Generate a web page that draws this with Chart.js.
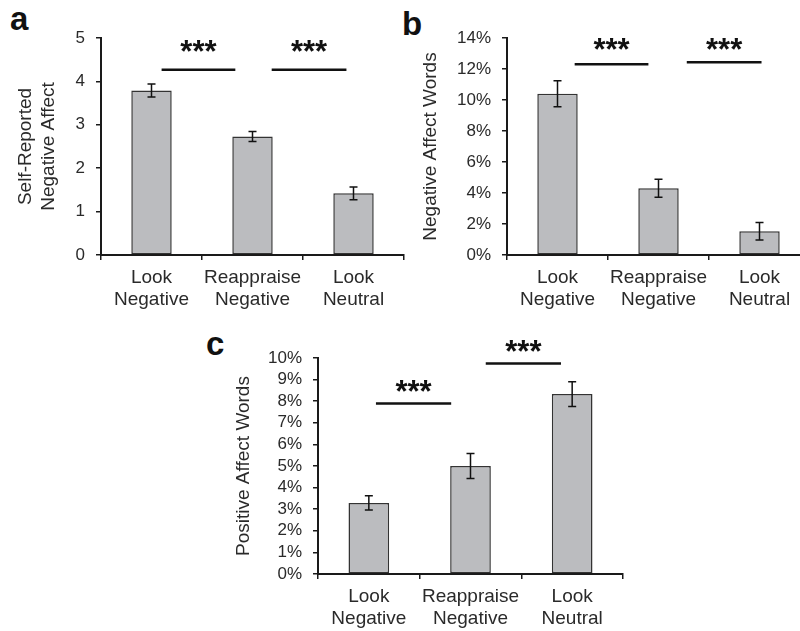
<!DOCTYPE html>
<html>
<head>
<meta charset="utf-8">
<script src="https://cdn.jsdelivr.net/npm/chart.js@4.4.1/dist/chart.umd.min.js"></script>
<style>
    html, body { margin: 0; padding: 0; background: #fff; }
    body { width: 800px; height: 631px; position: relative; overflow: hidden; }
    canvas { position: absolute; }
    .panel-letter { position: absolute; font: bold 33px "Liberation Sans", Arial, sans-serif; line-height: 33px; color: #111; }
</style>
</head>
<body>
<div class="panel-letter" style="left:10px; top:2px;">a</div>
<div class="panel-letter" style="left:402px; top:7px;">b</div>
<div class="panel-letter" style="left:206px; top:327px;">c</div>
<canvas id="chartA" width="420" height="320" style="left:0; top:0;"></canvas>
<canvas id="chartB" width="420" height="320" style="left:400px; top:0;"></canvas>
<canvas id="chartC" width="440" height="311" style="left:200px; top:320px;"></canvas>
<script>
// categories shared by all three panels
const categories = [['Look', 'Negative'], ['Reappraise', 'Negative'], ['Look', 'Neutral']];

// panel a: self-reported negative affect (scale 0-5)
const negAffect = [3.79, 2.73, 1.42];
const negAffectErr = [0.15, 0.115, 0.145];

// panel b: negative affect words (%)
const negWords = [10.4, 4.3, 1.53];
const negWordsErr = [0.84, 0.58, 0.57];

// panel c: positive affect words (%)
const posWords = [3.29, 5.0, 8.33];
const posWordsErr = [0.33, 0.58, 0.57];

// significance bars, in category-index / value units
const sigA = [{ from: 0.1, to: 0.83, y: 4.27, starY: 4.81 }, { from: 1.19, to: 1.93, y: 4.27, starY: 4.81 }];
const sigB = [{ from: 0.17, to: 0.9, y: 12.3, starY: 13.6 }, { from: 1.28, to: 2.02, y: 12.43, starY: 13.6 }];
const sigC = [{ from: 0.07, to: 0.81, y: 7.89, starY: 8.69 }, { from: 1.15, to: 1.89, y: 9.74, starY: 10.57 }];

const FONT = '"Liberation Sans", Arial, sans-serif';
const TEXT = '#2a2a2a';
const AXIS = '#1a1a1a';
const BAR_FILL = '#bbbcbf';

const markPlugin = {
    id: 'marks',
    afterDatasetsDraw(chart) {
        const opts = chart.options.plugins.marks;
        const ctx = chart.ctx;
        const xs = chart.scales.x;
        const ys = chart.scales.y;
        const vals = chart.data.datasets[0].data;

        ctx.save();
        // error bars
        ctx.strokeStyle = '#111';
        ctx.lineWidth = 1.5;
        opts.errors.forEach((e, i) => {
            const x = xs.getPixelForValue(i);
            const top = ys.getPixelForValue(vals[i] + e);
            const bot = ys.getPixelForValue(vals[i] - e);
            ctx.beginPath();
            ctx.moveTo(x, top); ctx.lineTo(x, bot);
            ctx.moveTo(x - 4, top); ctx.lineTo(x + 4, top);
            ctx.moveTo(x - 4, bot); ctx.lineTo(x + 4, bot);
            ctx.stroke();
        });

        // significance lines with stars
        const step = xs.getPixelForValue(1) - xs.getPixelForValue(0);
        const x0 = xs.getPixelForValue(0);
        ctx.lineWidth = 2.5;
        ctx.font = 'bold 31px ' + FONT;
        ctx.fillStyle = '#111';
        ctx.textAlign = 'center';
        ctx.textBaseline = 'alphabetic';
        const m = ctx.measureText('***');
        const half = (m.actualBoundingBoxAscent - m.actualBoundingBoxDescent) / 2;
        opts.sig.forEach(s => {
            const xa = x0 + s.from * step;
            const xb = x0 + s.to * step;
            const y = ys.getPixelForValue(s.y);
            ctx.beginPath();
            ctx.moveTo(xa, y); ctx.lineTo(xb, y);
            ctx.stroke();
            ctx.fillText('***', (xa + xb) / 2, ys.getPixelForValue(s.starY) + half);
        });
        ctx.restore();
    }
};

function makeChart(id, cfg) {
    return new Chart(document.getElementById(id), {
        type: 'bar',
        data: {
            labels: categories,
            datasets: [{
                data: cfg.values,
                backgroundColor: BAR_FILL,
                borderColor: '#333',
                borderWidth: 1.5,
                borderSkipped: false,
                categoryPercentage: 1,
                barPercentage: 0.4
            }]
        },
        options: {
            responsive: false,
            animation: false,
            events: [],
            layout: { padding: cfg.padding },
            plugins: {
                legend: { display: false },
                tooltip: { enabled: false },
                marks: { errors: cfg.errors, sig: cfg.sig }
            },
            scales: {
                x: {
                    offset: true,
                    grid: { offset: true, drawOnChartArea: false, tickLength: 5, color: AXIS, lineWidth: 1.5 },
                    border: { display: true, color: AXIS, width: 2 },
                    ticks: {
                        color: TEXT, padding: 7, maxRotation: 0, autoSkip: false,
                        font: { family: FONT, size: 19, lineHeight: 1.15 }
                    },
                    afterFit: s => { s.height = cfg.xHeight; }
                },
                y: {
                    min: 0,
                    max: cfg.max,
                    grid: { drawOnChartArea: false, tickLength: 5, color: AXIS, lineWidth: 1.5 },
                    border: { display: true, color: AXIS, width: 2 },
                    ticks: {
                        stepSize: cfg.step, color: TEXT, padding: 11, autoSkip: false,
                        font: { family: FONT, size: 17 },
                        callback: v => v + cfg.suffix
                    },
                    title: {
                        display: true, text: cfg.title, color: TEXT,
                        font: { family: FONT, size: 19, lineHeight: 1.2 },
                        padding: { top: cfg.titlePad, bottom: 0 }
                    },
                    afterFit: s => { s.width = cfg.yWidth; }
                }
            }
        },
        plugins: [markPlugin]
    });
}

makeChart('chartA', {
    values: negAffect, errors: negAffectErr, sig: sigA,
    max: 5, step: 1, suffix: '',
    title: ['Self-Reported', 'Negative Affect'], titlePad: 14.6,
    padding: { top: 38, right: 16, bottom: 0, left: 0 },
    yWidth: 101, xHeight: 65
});

makeChart('chartB', {
    values: negWords, errors: negWordsErr, sig: sigB,
    max: 14, step: 2, suffix: '%',
    title: 'Negative Affect Words', titlePad: 19,
    padding: { top: 38, right: 10, bottom: 0, left: 0 },
    yWidth: 107, xHeight: 65
});

makeChart('chartC', {
    values: posWords, errors: posWordsErr, sig: sigC,
    max: 10, step: 1, suffix: '%',
    title: 'Positive Affect Words', titlePad: 32.6,
    padding: { top: 38, right: 17, bottom: 0, left: 0 },
    yWidth: 118, xHeight: 57
});
</script>
</body>
</html>
